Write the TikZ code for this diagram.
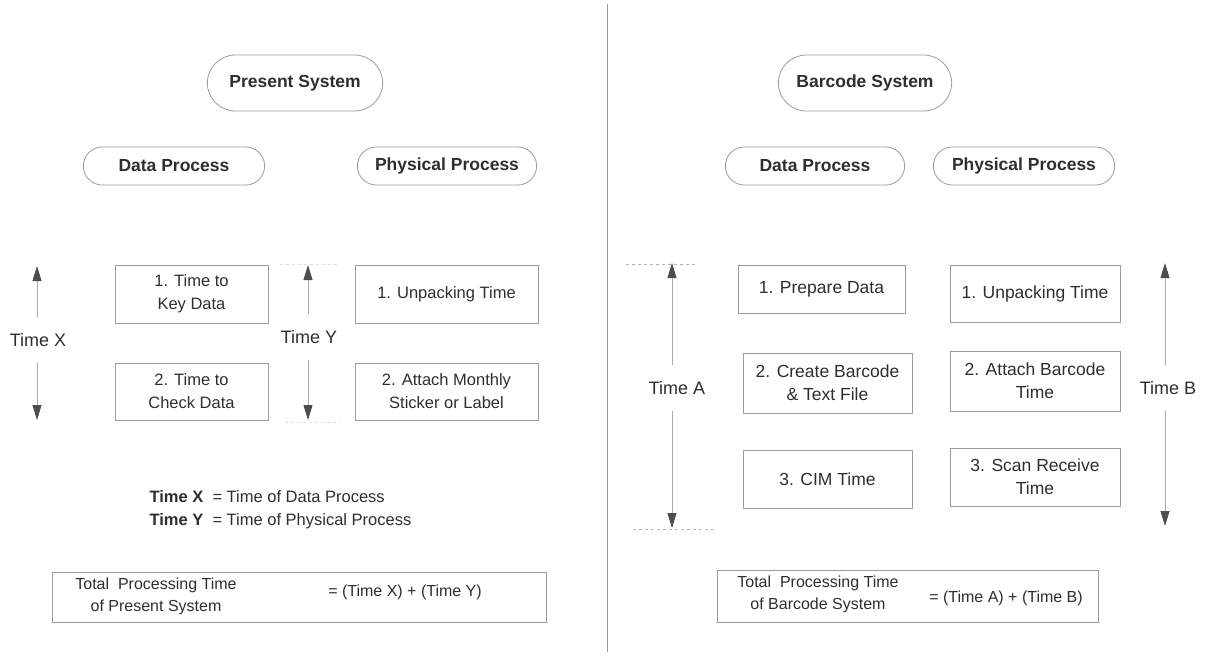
\documentclass[tikz,border=0pt]{standalone}
\usepackage{fontspec}
\setmainfont{Liberation Sans}
\usetikzlibrary{shapes.misc,arrows.meta}
\definecolor{ink}{HTML}{2E2E2E}
\definecolor{rule}{HTML}{9C9C9C}
\definecolor{shaft}{HTML}{ABABAB}
\definecolor{guide}{HTML}{B4B4B4}
\begin{document}
\begin{tikzpicture}[x=1pt,y=-1pt,
  capsule/.style={rounded rectangle, draw=rule, line width=0.8pt, minimum height=38pt,
    text=ink, font=\bfseries\fontsize{17.5}{20}\selectfont},
  stepbox/.style={draw=rule, line width=0.8pt, align=center, text=ink, inner sep=2pt,
    font=\fontsize{16.5}{23}\selectfont},
  widebox/.style={stepbox, font=\fontsize{17.5}{23}\selectfont},
  sumbox/.style={draw=rule, line width=0.8pt},
  plain/.style={text=ink, align=center, font=\fontsize{16.5}{22}\selectfont},
  sumtext/.style={text=ink, align=center, font=\fontsize{16}{22}\selectfont},
  timelabel/.style={text=ink, font=\fontsize{18}{20}\selectfont, inner sep=2pt},
  timearrow/.style={draw=shaft, line width=0.8pt, shorten <=14pt,
    -{Triangle[length=15pt,width=9pt,color=ink!85]}},
  guideline/.style={draw=guide, line width=0.7pt, dash pattern=on 3pt off 3pt}
]
\useasboundingbox (0,0) rectangle (1219,656);

% separating rule between the two systems
\coordinate (divtop) at (607,4);
\coordinate (divbot) at (607,652);
\draw[draw=rule, line width=0.8pt] (divtop) -- (divbot);

% ---------------- present system ----------------
\node[capsule, minimum width=182pt, minimum height=56pt] (ps) at (295,83) {Present System};
\node[capsule, minimum width=188pt] (dpl) at (174,166) {Data Process};
\node[capsule, minimum width=186pt] (ppl) at (447,166) {Physical Process};

\node[stepbox, minimum width=153pt, minimum height=58pt] (l1) at (191.5,294) {1. Time to\\Key Data};
\node[stepbox, minimum width=153pt, minimum height=57pt] (l2) at (191.5,391.5) {2. Time to\\Check Data};
\node[stepbox, minimum width=183pt, minimum height=58pt] (l3) at (446.5,294) {1. Unpacking Time};
\node[stepbox, minimum width=183pt, minimum height=57pt] (l4) at (446.5,391.5) {2. Attach Monthly\\Sticker or Label};

\node[timelabel] (tx) at (38,340) {Time X};
\coordinate (txtop) at (37,266);
\coordinate (txbot) at (37,420);
\draw[timearrow] (tx.north -| txtop) -- (txtop);
\draw[timearrow] (tx.south -| txbot) -- (txbot);

\node[timelabel] (ty) at (309,337) {Time Y};
\coordinate (tytop) at (308,265);
\coordinate (tybot) at (308,420);
\draw[timearrow] (ty.north -| tytop) -- (tytop);
\draw[timearrow] (ty.south -| tybot) -- (tybot);
\coordinate (gy1) at (280,264);
\coordinate (gy2) at (340,264);
\coordinate (gy3) at (285,422);
\coordinate (gy4) at (340,422);
\draw[guideline, draw=guide!45] (gy1) -- (gy2);
\draw[guideline, draw=guide!45] (gy3) -- (gy4);

\node[plain, anchor=west] (kx) at (146,497) {\textbf{Time X}\ \ = Time of Data Process};
\node[plain, anchor=west] (ky) at (146,521) {\textbf{Time Y}\ \ = Time of Physical Process};

\node[sumbox, minimum width=494pt, minimum height=50pt] (totl) at (299,597) {};
\node[sumtext] (totltxt) at (156,596) {Total\ \ Processing Time\\of Present System};
\node[sumtext] (totleq) at (405,592) {= (Time X) + (Time Y)};

% ---------------- barcode system ----------------
\node[capsule, minimum width=180pt, minimum height=56pt] (bs) at (865,83) {Barcode System};
\node[capsule, minimum width=186pt] (dpr) at (815,166) {Data Process};
\node[capsule, minimum width=188pt] (ppr) at (1024,166) {Physical Process};

\node[widebox, minimum width=167pt, minimum height=48pt] (r1) at (821.5,289) {1. Prepare Data};
\node[widebox, minimum width=170pt, minimum height=57pt] (r2) at (1035,293.5) {1. Unpacking Time};
\node[widebox, minimum width=169pt, minimum height=60pt] (r3) at (827.5,383) {2. Create Barcode\\\& Text File};
\node[widebox, minimum width=170pt, minimum height=60pt] (r4) at (1035,381) {2. Attach Barcode\\Time};
\node[widebox, minimum width=169pt, minimum height=58pt] (r5) at (827.5,479) {3. CIM Time};
\node[widebox, minimum width=170pt, minimum height=58pt] (r6) at (1035,477) {3. Scan Receive\\Time};

\node[timelabel] (ta) at (677,388) {Time A};
\coordinate (tatop) at (672,263);
\coordinate (tabot) at (672,528);
\draw[timearrow] (ta.north -| tatop) -- (tatop);
\draw[timearrow] (ta.south -| tabot) -- (tabot);
\coordinate (ga1) at (626,264);
\coordinate (ga2) at (697,264);
\coordinate (ga3) at (633,529);
\coordinate (ga4) at (715,529);
\draw[guideline] (ga1) -- (ga2);
\draw[guideline] (ga3) -- (ga4);

\node[timelabel] (tb) at (1168,388) {Time B};
\coordinate (tbtop) at (1165,263);
\coordinate (tbbot) at (1165,526);
\draw[timearrow] (tb.north -| tbtop) -- (tbtop);
\draw[timearrow] (tb.south -| tbbot) -- (tbbot);

\node[sumbox, minimum width=381pt, minimum height=52pt] (totr) at (907.5,596) {};
\node[sumtext] (totrtxt) at (818,594) {Total\ \ Processing Time\\of Barcode System};
\node[sumtext] (totreq) at (1006,598) {= (Time A) + (Time B)};
\end{tikzpicture}
\end{document}
